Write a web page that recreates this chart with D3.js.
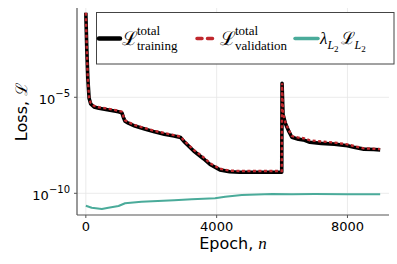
<!DOCTYPE html>
<html>
<head>
<meta charset="utf-8">
<script src="https://cdn.jsdelivr.net/npm/d3@7"></script>
<style>
  body { margin: 0; background: #fff; }
  svg text { font-family: "DejaVu Sans", sans-serif; }
  .tex { font-family: "Liberation Serif", "DejaVu Serif", serif; }
</style>
</head>
<body>
<div id="chart"></div>
<script>
// training loss (log10)
var trainEpochs = [0, 30, 60, 100, 150, 250, 400, 700, 1000, 1100, 1150, 1200, 1300, 1500, 1800, 2100, 2400, 2700, 2900, 3000, 3300, 3600, 3800, 4100, 4400, 4700, 5000, 5500, 5990, 6000, 6030, 6100, 6200, 6300, 6500, 6650, 6850, 7200, 7600, 8000, 8200, 8500, 8800, 9000];
var trainLog = [-0.6, -2.5, -4.0, -5.05, -5.35, -5.5, -5.57, -5.66, -5.75, -5.8, -6.05, -6.25, -6.35, -6.5, -6.65, -6.8, -6.92, -7.02, -7.1, -7.3, -7.8, -8.2, -8.5, -8.78, -8.88, -8.9, -8.9, -8.9, -8.9, -4.27, -5.9, -6.35, -6.75, -7.08, -7.18, -7.22, -7.34, -7.4, -7.44, -7.52, -7.6, -7.7, -7.72, -7.74];
// validation loss (log10)
var valLog = [-0.6, -2.5, -4.0, -5.02, -5.3, -5.45, -5.52, -5.6, -5.7, -5.75, -6.0, -6.2, -6.3, -6.45, -6.6, -6.75, -6.86, -6.97, -7.05, -7.25, -7.74, -8.13, -8.44, -8.72, -8.82, -8.84, -8.84, -8.84, -8.84, -4.27, -5.85, -6.3, -6.7, -7.02, -7.1, -7.13, -7.24, -7.3, -7.36, -7.45, -7.54, -7.66, -7.68, -7.7];
// L2 regularisation term (log10)
var l2Epochs = [0, 180, 490, 690, 1000, 1200, 1700, 2200, 2700, 3240, 3950, 4260, 4770, 5700, 6300, 7000, 8000, 9000];
var l2Log = [-10.65, -10.75, -10.82, -10.75, -10.66, -10.52, -10.44, -10.4, -10.36, -10.31, -10.26, -10.18, -10.09, -10.04, -10.05, -10.04, -10.05, -10.05];

var xTicks = [0, 4000, 8000];
var yTickExps = [-5, -10];
var seriesColors = ["#000000", "#c0272d", "#4aab9a"];

var width = 397, height = 264;
var mLeft = 77, mRight = 389, mTop = 8, mBottom = 215;

var svg = d3.select('#chart').append('svg')
  .attr('width', width)
  .attr('height', height);

var x = d3.scaleLinear().domain([-270, 9270]).range([mLeft, mRight]);
var y = d3.scaleLog().domain([Math.pow(10, -11.13), Math.pow(10, -0.35)]).range([mBottom, mTop]);

// grid
svg.append('g').selectAll('line').data(xTicks).enter().append('line')
  .attr('x1', function(d) { return x(d); }).attr('x2', function(d) { return x(d); })
  .attr('y1', mTop).attr('y2', mBottom)
  .attr('stroke', '#e6e6e6').attr('stroke-width', 0.8);
svg.append('g').selectAll('line').data(yTickExps).enter().append('line')
  .attr('x1', mLeft).attr('x2', mRight)
  .attr('y1', function(d) { return y(Math.pow(10, d)); }).attr('y2', function(d) { return y(Math.pow(10, d)); })
  .attr('stroke', '#e6e6e6').attr('stroke-width', 0.8);

function toPoints(xs, logs) {
  return xs.map(function(e, i) { return [e, Math.pow(10, logs[i])]; });
}
var line = d3.line()
  .x(function(d) { return x(d[0]); })
  .y(function(d) { return y(d[1]); });

svg.append('path').datum(toPoints(trainEpochs, trainLog))
  .attr('d', line).attr('fill', 'none')
  .attr('stroke', seriesColors[0]).attr('stroke-width', 3.6)
  .attr('stroke-linejoin', 'round');
svg.append('path').datum(toPoints(trainEpochs, valLog))
  .attr('d', line).attr('fill', 'none')
  .attr('stroke', seriesColors[1]).attr('stroke-width', 2.4)
  .attr('stroke-dasharray', '3,2.5');
svg.append('path').datum(toPoints(l2Epochs, l2Log))
  .attr('d', line).attr('fill', 'none')
  .attr('stroke', seriesColors[2]).attr('stroke-width', 2)
  .attr('stroke-linejoin', 'round');

// axes
var axisColor = '#555';
svg.append('line').attr('x1', mLeft).attr('x2', mLeft).attr('y1', mTop).attr('y2', mBottom)
  .attr('stroke', axisColor).attr('stroke-width', 1.2);
svg.append('line').attr('x1', mLeft).attr('x2', mRight).attr('y1', mBottom).attr('y2', mBottom)
  .attr('stroke', axisColor).attr('stroke-width', 1.2);

var xt = svg.append('g').selectAll('g').data(xTicks).enter().append('g')
  .attr('transform', function(d) { return 'translate(' + x(d) + ',' + mBottom + ')'; });
xt.append('line').attr('y1', 0).attr('y2', 3).attr('stroke', axisColor).attr('stroke-width', 1);
xt.append('text').attr('y', 16).attr('text-anchor', 'middle')
  .style('font-size', '13px').text(function(d) { return d; });

var yt = svg.append('g').selectAll('g').data(yTickExps).enter().append('g')
  .attr('transform', function(d) { return 'translate(' + mLeft + ',' + y(Math.pow(10, d)) + ')'; });
yt.append('line').attr('x1', -3).attr('x2', 0).attr('stroke', axisColor).attr('stroke-width', 1);
var ytText = yt.append('text').attr('x', -7).attr('y', 7).attr('text-anchor', 'end')
  .style('font-size', '13px');
ytText.append('tspan').text('10');
ytText.append('tspan').attr('dy', -7).style('font-size', '10px')
  .text(function(d) { return '\u2212' + Math.abs(d); });

// axis titles
var xl = svg.append('text').attr('x', 233).attr('y', 249).attr('text-anchor', 'middle')
  .style('font-size', '16px');
xl.append('tspan').text('Epoch, ');
xl.append('tspan').attr('class', 'tex').style('font-style', 'italic').style('font-size', '17px').text('n');

var yl = svg.append('text').attr('transform', 'translate(27,112) rotate(-90)')
  .attr('text-anchor', 'middle').style('font-size', '16px');
yl.append('tspan').text('Loss, ');
yl.append('tspan').attr('class', 'tex').text('\u2112');

// legend
var lg = svg.append('g');
lg.append('rect').attr('x', 96.5).attr('y', 12.5).attr('width', 297.5).attr('height', 51.5)
  .attr('fill', '#fff').attr('stroke', '#444').attr('stroke-width', 1);
var ly = 38.5;
lg.append('line').attr('x1', 99).attr('x2', 120).attr('y1', ly).attr('y2', ly)
  .attr('stroke', seriesColors[0]).attr('stroke-width', 4.5).attr('stroke-linecap', 'round');
lg.append('line').attr('x1', 197).attr('x2', 217).attr('y1', ly).attr('y2', ly)
  .attr('stroke', seriesColors[1]).attr('stroke-width', 3.5).attr('stroke-linecap', 'round')
  .attr('stroke-dasharray', '5,5.5');
lg.append('line').attr('x1', 295).attr('x2', 318).attr('y1', ly).attr('y2', ly)
  .attr('stroke', seriesColors[2]).attr('stroke-width', 3.5).attr('stroke-linecap', 'round');

function lossLabel(x0, sub) {
  lg.append('text').attr('class', 'tex').attr('x', x0).attr('y', ly + 6)
    .style('font-size', '19px').text('\u2112');
  lg.append('text').attr('class', 'tex').attr('x', x0 + 15).attr('y', ly - 4)
    .style('font-size', '13px').text('total');
  lg.append('text').attr('class', 'tex').attr('x', x0 + 15).attr('y', ly + 11)
    .style('font-size', '13px').text(sub);
}
lossLabel(122, 'training');
lossLabel(220, 'validation');

var l2t = lg.append('text').attr('class', 'tex').attr('x', 320).attr('y', ly + 5)
  .style('font-size', '17px');
l2t.append('tspan').style('font-style', 'italic').text('\u03bb');
l2t.append('tspan').attr('dy', 5).style('font-size', '12px').style('font-style', 'italic').text('L');
l2t.append('tspan').attr('dy', 3).style('font-size', '9px').text('2');
l2t.append('tspan').attr('dy', -8).attr('dx', 2).text('\u2112');
l2t.append('tspan').attr('dy', 5).style('font-size', '12px').style('font-style', 'italic').text('L');
l2t.append('tspan').attr('dy', 3).style('font-size', '9px').text('2');
</script>
</body>
</html>
